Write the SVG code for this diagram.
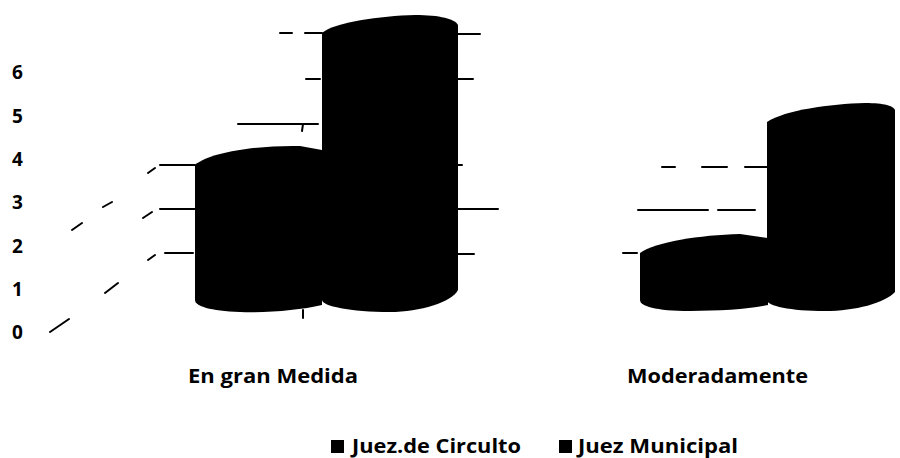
<svg xmlns="http://www.w3.org/2000/svg" width="900" height="458" viewBox="0 0 900 458">
<style>
.bar{fill:#000}
.grid{stroke:#000;stroke-width:2;fill:none;stroke-linecap:round}
.ax{font-family:"Open Sans","Liberation Sans",sans-serif;font-weight:700;font-size:19px;fill:#000}
.lbl{font-family:"Open Sans","Liberation Sans",sans-serif;font-weight:700;font-size:20px;fill:#000}
</style>
<rect width="900" height="458" fill="#fff"/>
<g id="connectors">
<path class="grid" d="M280,33H292M305,33H322M458,34H480M306,79H320M458,79H473M238,124H318M303,124L302,131M148,173L155,168M160,165H195M458,165H462M143,218L152,212M160,209H195M458,209H498M148,260L155,255M165,253H193M458,254H474M103,207L112,202M72,230L82,223M105,293L118,283M50,332L69,319M303,310V318"/>
<path class="grid" d="M662,167H675M702,167H727M745,167H768M638,210H708M718,210H755M623,253H637"/>
</g>
<g id="axis">
<text class="ax" x="12" y="79">6</text>
<text class="ax" x="12" y="123">5</text>
<text class="ax" x="12" y="166">4</text>
<text class="ax" x="12" y="209">3</text>
<text class="ax" x="12" y="253">2</text>
<text class="ax" x="12" y="296">1</text>
<text class="ax" x="12" y="339">0</text>
</g>
<g id="bar-gran-circuito"><path class="bar" d="M195,165C210,152 260,145 300,146L322,150L322,305C300,310 270,313 240,312C210,311 195,306 195,300Z"/></g>
<g id="bar-gran-municipal"><path class="bar" d="M322,33C335,22 380,16 415,15C440,15 455,19 458,25L458,290C452,302 420,312 390,312C350,312 322,306 322,300Z"/></g>
<g id="bar-mod-circuito"><path class="bar" d="M640,253C655,242 700,235 740,234L768,238L768,305C750,309 720,311 690,311C655,311 640,306 640,300Z"/></g>
<g id="bar-mod-municipal"><path class="bar" d="M767,122C785,110 830,104 865,103C885,103 893,106 895,110L895,292C885,303 855,311 825,311C790,311 767,306 767,300Z"/></g>
<g id="cat-labels">
<text class="lbl" x="188" y="383" textLength="170" lengthAdjust="spacingAndGlyphs">En gran Medida</text>
<text class="lbl" x="627" y="383" textLength="181" lengthAdjust="spacingAndGlyphs">Moderadamente</text>
</g>
<g id="legend">
<rect x="331" y="440" width="13" height="13" class="bar"/>
<text class="lbl" x="352" y="453" textLength="169" lengthAdjust="spacingAndGlyphs">Juez.de Circulto</text>
<rect x="559" y="440" width="13" height="13" class="bar"/>
<text class="lbl" x="578" y="453" textLength="160" lengthAdjust="spacingAndGlyphs">Juez Municipal</text>
</g>
</svg>
